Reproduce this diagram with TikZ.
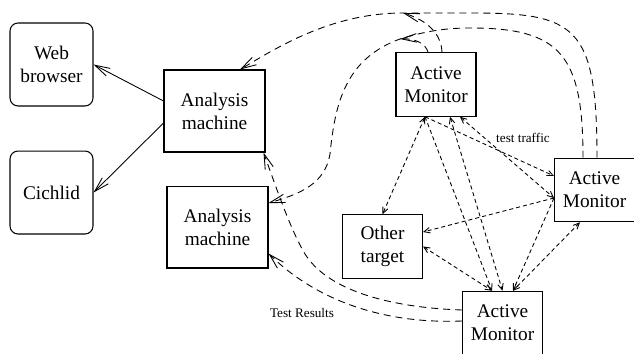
\documentclass[tikz,border=0pt]{standalone}
\usepackage{fontspec}
\setmainfont{Liberation Serif}
\usepackage{tikz}
\usetikzlibrary{arrows.meta,positioning,calc}
\tikzset{
  box/.style={rectangle, draw=black, line width=0.6pt, inner sep=0pt, align=center, font=\fontsize{11}{13}\selectfont},
  rbox/.style={box, rounded corners=0.16cm, minimum width=1.66cm, minimum height=1.66cm},
  machine/.style={box, minimum width=2.02cm, minimum height=1.64cm},
  monitor/.style={box, minimum width=1.6cm, minimum height=1.27cm},
  link/.style={draw=black, line width=0.5pt, >={Straight Barb[length=3mm,width=1.7mm]}, ->},
  result/.style={link, dash pattern=on 4pt off 2.8pt},
  probe/.style={draw=black, line width=0.5pt, dash pattern=on 2.3pt off 1.7pt, >={Straight Barb[length=1.2mm,width=1.1mm]}},
  lbl/.style={font=\fontsize{7.5}{9}\selectfont, inner sep=1pt}
}

\begin{document}
\begin{tikzpicture}[x=0.02cm, y=0.02cm]
\useasboundingbox (0,0) rectangle (634,354);

\node[rbox] (web) at (51.5,289.5) {Web\\browser};
\node[rbox, below=0.88cm of web] (cichlid) {Cichlid};
\node[machine] (ana1) at (214.5,243) {Analysis\\machine};
\node[machine, below=0.66cm of ana1, xshift=0.06cm] (ana2) {Analysis\\machine};
\node[monitor] (am1) at (436,269.5) {Active\\Monitor};
\node[monitor] (am2) at (594.5,164) {Active\\Monitor};
\node[monitor] (am3) at (502.5,31) {Active\\Monitor};
\node[monitor] (other) at (382.5,107.5) {Other\\target};
\node[lbl] (traffic) at (523,216) {test traffic};
\node[lbl] (results) at (302,41) {Test Results};

\coordinate (a1-n1) at ([xshift=-0.16cm]am1.north);
\coordinate (a1-n2) at ([xshift=0.12cm]am1.north);
\coordinate (top-o) at (403,341);
\coordinate (top-i) at (400,315);
\coordinate (a1-s1) at ([xshift=-0.22cm]am1.south);
\coordinate (a1-s2) at ([xshift=0.28cm]am1.south);
\coordinate (a1-s3) at ([xshift=0.48cm]am1.south);
\coordinate (a2-w1) at ([yshift=0.28cm]am2.west);
\coordinate (a2-w2) at ([yshift=-0.16cm]am2.west);
\coordinate (a2-s) at ([xshift=-0.29cm]am2.south);
\coordinate (a3-n1) at ([xshift=-0.21cm]am3.north);
\coordinate (a3-n3) at ([xshift=0.21cm]am3.north);
\coordinate (ot-e1) at ([yshift=0.29cm]other.east);

\draw[link] ([yshift=0.2cm]ana1.west) -- (web.east);
\draw[link] ([yshift=-0.24cm]ana1.west) -- (cichlid.east);

\draw[result] ([xshift=0.05cm]am2.north) .. controls (597,330) and (575,341) .. (470,341) -- (top-o) .. controls (330,341) and (275,305) .. ([xshift=0.51cm]ana1.north);
\draw[result] ([xshift=-0.23cm]am2.north) .. controls (583,300) and (560,326) .. (470,326) .. controls (440,326) and (420,321) .. (top-i) .. controls (345,295) and (335,250) .. (330,200) .. controls (325,170) and (300,160) .. ([yshift=0.48cm]ana2.east);
\draw[result] (a1-n2) .. controls (441,325) and (420,336) .. (top-o);
\draw[result] (a1-n1) .. controls (426,310) and (415,316) .. (top-i);

\draw[result] ([yshift=0.26cm]am3.west) .. controls (400,46) and (330,60) .. (305,100) .. controls (290,125) and (275,170) .. ([xshift=-0.04cm]ana1.south east);
\draw[result] ([yshift=0.04cm]am3.west) .. controls (390,30) and (320,50) .. ([yshift=-0.53cm]ana2.east);

\draw[probe,<->] (a1-s1) -- (other.north);
\draw[probe,->] (a1-s1) -- (a3-n1);
\draw[probe,->] (a1-s1) -- (a2-w1);
\draw[probe,<->] (a1-s2) -- (am3.north);
\draw[probe,<->] (a1-s3) -- (a2-w2);
\draw[probe,->] (a2-w2) -- (ot-e1);
\draw[probe,->] (a2-w2) -- (a3-n3);
\draw[probe,<->] (a2-s) -- (a3-n3);
\draw[probe,<->] (other.east) -- (a3-n1);

\end{tikzpicture}
\end{document}
